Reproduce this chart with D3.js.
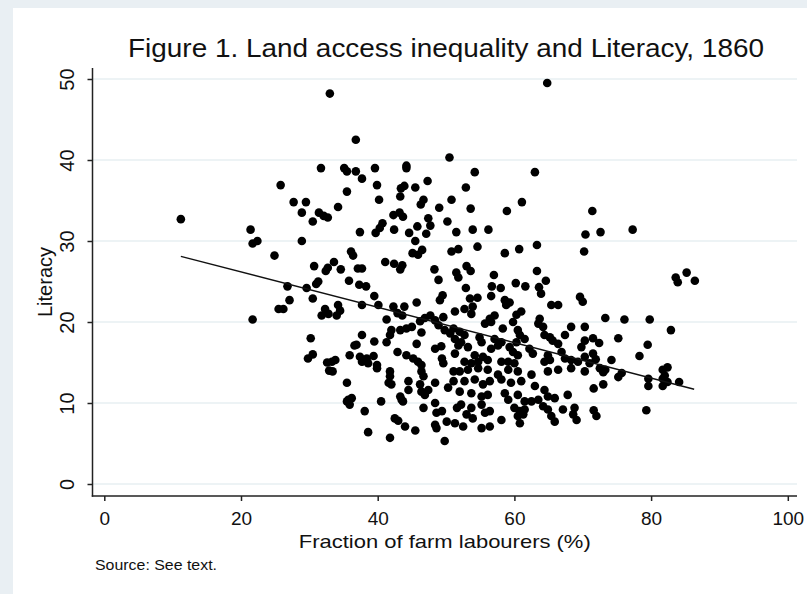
<!DOCTYPE html>
<html lang="en">
<head>
<meta charset="utf-8">
<title>Figure 1</title>
<script src="https://d3js.org/d3.v7.min.js"></script>
<style>
  html, body { margin: 0; padding: 0; background: #e9eff3; }
  svg { display: block; }
  text { font-family: "Liberation Sans", Arial, Helvetica, sans-serif; fill: #111; }
</style>
</head>
<body>
<svg id="chart" width="807" height="594"></svg>
<script>
// fraction of farm labourers (%), literacy
const upperLeft = [[33.0,48.2],[36.8,42.5],[11.2,32.7],[31.7,39.0],[35.1,39.0],[35.5,38.6],[36.8,38.6],[37.7,37.7],[39.6,39.0],[39.9,36.9],[40.2,35.1],[44.2,39.3],[44.2,39.0],[25.8,36.9],[27.7,34.8],[29.5,34.8],[28.9,33.5],[30.5,32.4],[31.4,33.5],[32.1,33.1],[32.7,32.9],[34.2,34.2],[35.5,36.1],[21.4,31.4],[21.7,29.7],[22.4,30.0],[28.9,30.0],[24.9,28.2],[37.4,31.1],[36.1,28.7],[36.4,28.2],[30.7,26.9],[32.4,26.3],[32.7,26.7],[33.6,27.4],[34.6,26.5],[31.3,25.0],[31.0,24.7],[35.8,25.1],[37.1,26.6],[37.7,26.6],[37.3,24.6],[38.3,24.4],[26.8,24.4],[29.6,24.2],[45.5,36.6],[47.3,37.4],[43.4,36.5],[43.9,36.8],[43.3,35.5],[46.7,35.1],[46.3,34.5],[49.0,34.1],[42.3,33.2],[43.2,33.5],[43.7,33.0],[47.4,32.8],[47.7,31.9],[45.8,31.8],[47.1,30.9],[44.6,31.0],[42.4,31.4],[40.7,32.2],[40.3,31.6],[39.7,31.0],[45.5,30.0],[45.1,28.5],[45.9,28.3],[46.5,28.9],[41.1,27.4],[42.4,27.2],[43.3,26.5],[43.6,27.0],[48.3,26.5],[48.9,25.2]];

const upperRight = [[64.8,49.5],[50.5,40.3],[54.2,38.5],[63.0,38.5],[52.9,36.6],[50.8,35.1],[53.6,34.0],[61.1,34.8],[58.9,33.7],[50.2,32.4],[51.5,31.1],[53.9,31.4],[56.2,31.4],[71.4,33.7],[70.4,30.8],[72.6,31.1],[77.3,31.4],[70.2,28.7],[63.3,29.5],[60.7,29.0],[58.6,28.5],[54.6,29.3],[51.8,29.0],[50.8,28.7],[51.5,26.1],[51.8,25.5],[53.0,26.9],[53.6,26.3],[57.0,25.8],[52.9,24.2],[56.7,24.4],[58.0,24.2],[60.2,24.8],[61.6,24.4],[63.3,26.3],[64.6,25.1],[63.6,24.3],[83.6,25.5],[83.9,24.9],[85.2,26.1],[86.4,25.1]];

const lowerLeft = [[30.5,22.9],[27.1,22.7],[25.5,21.6],[26.2,21.6],[32.3,21.6],[31.8,20.8],[21.7,20.3],[30.2,18.0],[30.5,16.0],[29.8,15.5],[32.6,15.0],[32.9,14.0]];

const lowerRight = [[73.3,20.5],[76.1,20.3],[79.8,20.3],[82.9,19.0],[75.2,18.0],[79.5,17.2],[78.3,15.8],[71.5,18.0],[72.4,17.4],[71.5,16.1],[71.9,15.4],[74.2,15.3],[72.5,14.3],[73.3,14.1],[73.0,13.8],[75.7,13.7],[75.2,13.2],[73.0,12.3],[71.6,11.8],[81.7,14.1],[82.4,14.4],[82.0,13.4],[81.7,13.0],[82.4,12.6],[84.1,12.6],[79.6,13.0],[79.6,12.1],[81.7,12.1],[79.3,9.1],[71.6,9.1],[72.0,8.4]];

const coreWest = [[39.5,23.2],[49.5,23.3],[49.1,22.7],[45.7,22.4],[51.3,21.3],[37.7,22.1],[40.1,22.1],[42.3,21.9],[43.9,21.9],[43.6,20.8],[42.9,21.1],[34.2,22.1],[34.5,21.4],[34.0,20.8],[32.8,21.0],[41.3,20.3],[47.7,20.8],[46.9,20.5],[46.2,20.1],[48.4,20.2],[49.6,20.6],[45.0,19.4],[44.2,19.2],[43.3,19.0],[42.0,19.0],[41.8,18.4],[41.3,17.5],[46.4,18.7],[48.9,19.6],[49.8,19.0],[50.6,18.6],[51.3,17.9],[51.1,19.2],[37.7,18.4],[39.5,17.6],[36.6,17.1],[36.9,17.2],[45.7,17.3],[48.4,16.7],[49.3,17.0],[42.9,16.3],[44.2,15.9],[45.2,15.5],[45.9,15.1],[46.4,14.7],[35.9,15.9],[37.4,15.7],[38.4,15.5],[39.4,15.8],[33.3,15.1],[33.8,15.3],[39.9,14.7],[49.4,15.5],[49.6,14.9],[51.3,16.1],[51.8,17.1],[37.7,15.1],[38.6,14.9],
  [33.4,13.9],[39.9,14.3],[41.8,13.9],[41.8,13.3],[42.0,12.3],[41.6,12.5],[35.5,12.5],[44.5,12.7],[44.5,11.6],[46.4,13.9],[46.7,13.3],[46.2,12.3],[46.4,11.4],[46.9,11.0],[47.4,11.6],[48.4,12.5],[51.1,13.9],[51.1,12.7],[50.3,11.9],[35.7,10.4],[35.9,9.8],[35.5,10.2],[36.2,10.6],[40.5,10.2],[43.3,10.8],[43.7,10.2],[43.5,10.4],[38.1,9.0],[46.7,9.4],[48.4,10.0],[48.6,8.8],[49.4,9.0],[51.6,9.4],[42.5,8.1],[43.0,7.8],[44.0,7.1],[45.5,6.6],[48.4,7.3],[48.6,6.9],[50.1,7.7],[51.3,7.5],[38.6,6.4],[41.8,5.7],[49.8,5.3]];

const coreEast = [[56.6,23.2],[53.5,22.9],[54.6,23.0],[53.9,21.9],[53.7,21.0],[52.7,21.6],[58.6,22.7],[59.3,22.4],[58.8,22.1],[63.9,23.5],[69.6,23.1],[70.0,22.5],[65.4,22.1],[66.4,22.1],[61.0,21.3],[60.3,20.9],[57.1,20.8],[56.4,20.4],[55.7,19.8],[56.6,20.0],[59.8,20.0],[63.7,20.4],[63.5,19.8],[64.2,19.4],[58.3,19.2],[60.5,19.0],[60.8,18.4],[60.3,17.5],[61.5,17.9],[68.3,19.4],[70.3,19.4],[67.4,18.4],[66.4,17.3],[64.4,18.4],[65.2,18.1],[65.6,17.7],[52.0,18.8],[52.7,18.4],[52.2,17.5],[53.2,16.9],[54.9,18.1],[55.2,17.5],[57.1,17.9],[57.6,17.1],[56.6,16.7],[58.1,17.5],[59.3,16.9],[59.8,16.3],[60.5,15.9],[62.2,16.7],[62.7,16.1],[54.2,15.9],[55.4,15.7],[54.7,15.1],[56.1,15.3],[53.7,14.9],[52.7,15.1],[58.1,15.1],[59.1,15.1],[60.0,14.9],[64.9,15.9],[65.2,15.3],[64.4,15.1],[66.9,16.3],[67.4,15.5],[68.3,15.3],[69.3,15.1],[70.3,15.7],[71.0,14.9],[69.8,16.9],[70.3,17.7],
  [52.0,13.9],[53.2,14.1],[54.7,14.3],[56.1,14.1],[57.6,13.5],[59.1,14.1],[60.5,13.9],[62.5,13.5],[64.9,13.9],[66.4,14.1],[68.3,14.3],[70.3,13.9],[52.7,12.7],[54.2,12.9],[55.4,12.3],[56.4,12.7],[58.1,12.9],[59.5,12.5],[61.0,12.7],[63.0,12.1],[64.4,11.6],[65.9,10.6],[67.8,11.0],[52.0,11.4],[53.7,11.2],[55.2,10.8],[56.1,11.0],[58.6,11.2],[59.1,10.4],[60.5,11.0],[61.5,10.2],[62.5,10.2],[63.5,10.4],[64.9,10.8],[52.2,9.8],[53.7,9.4],[55.2,9.8],[56.4,9.0],[53.0,8.6],[53.9,8.1],[52.5,7.1],[55.7,8.8],[60.0,9.4],[60.8,9.0],[61.5,9.2],[60.5,8.4],[61.3,8.6],[64.2,9.6],[64.9,9.2],[65.4,8.4],[65.9,7.7],[67.1,9.2],[68.8,9.4],[69.1,7.9],[68.6,8.6],[58.1,7.9],[60.8,7.5],[55.2,6.9],[56.4,7.1]];

// fitted line, end points as drawn
const fitX = [11.2, 86.3];
const fitY = [28.1, 11.7];

const xTicks = [0, 20, 40, 60, 80, 100];
const yTicks = [0, 10, 20, 30, 40, 50];

const points = [].concat(upperLeft, upperRight, lowerLeft, lowerRight, coreWest, coreEast);

const svg = d3.select('#chart');

// white graph region inside the light outer band
svg.append('rect')
    .attr('x', 13).attr('y', 8)
    .attr('width', 807 - 13).attr('height', 594 - 8)
    .attr('fill', '#ffffff');

const plotLeft = 92.5, plotRight = 797, plotTop = 68, plotBottom = 496;

const x = d3.scaleLinear().domain([0, 100]).range([104.3, 787.8]);
const y = d3.scaleLinear().domain([0, 50]).range([484, 79]);

// gridlines
svg.append('g')
    .selectAll('line')
    .data(yTicks)
    .join('line')
    .attr('x1', plotLeft).attr('x2', plotRight)
    .attr('y1', d => y(d)).attr('y2', d => y(d))
    .attr('stroke', '#e7eff2')
    .attr('stroke-width', 1.6);

// axes
const xAxis = svg.append('g')
    .attr('transform', `translate(0,${plotBottom})`)
    .call(d3.axisBottom(x).tickValues(xTicks).tickSize(5));
const yAxis = svg.append('g')
    .attr('transform', `translate(${plotLeft},0)`)
    .call(d3.axisLeft(y).tickValues(yTicks).tickSize(5));

[xAxis, yAxis].forEach(g => {
    g.select('.domain').remove();
    g.selectAll('.tick line').attr('stroke', '#222').attr('stroke-width', 1.5);
});

xAxis.selectAll('.tick text')
    .attr('font-size', 19)
    .attr('fill', '#111')
    .attr('dy', null)
    .attr('y', 29);

yAxis.selectAll('.tick text')
    .attr('font-size', 20)
    .attr('fill', '#111')
    .attr('text-anchor', 'middle')
    .attr('dy', null)
    .attr('x', null)
    .attr('transform', 'translate(-19,0) rotate(-90)');

// axis lines
svg.append('line')
    .attr('x1', plotLeft).attr('x2', plotLeft)
    .attr('y1', plotTop).attr('y2', plotBottom + 0.75)
    .attr('stroke', '#222').attr('stroke-width', 1.5);
svg.append('line')
    .attr('x1', plotLeft - 0.75).attr('x2', plotRight)
    .attr('y1', plotBottom).attr('y2', plotBottom)
    .attr('stroke', '#222').attr('stroke-width', 1.5);

// scatter
svg.append('g')
    .selectAll('circle')
    .data(points)
    .join('circle')
    .attr('cx', d => x(d[0]))
    .attr('cy', d => y(d[1]))
    .attr('r', 4.3)
    .attr('fill', '#000');

// fitted values
svg.append('line')
    .attr('x1', x(fitX[0])).attr('y1', y(fitY[0]))
    .attr('x2', x(fitX[1])).attr('y2', y(fitY[1]))
    .attr('stroke', '#111')
    .attr('stroke-width', 1.4);

// titles
svg.append('text')
    .attr('x', 446).attr('y', 57)
    .attr('text-anchor', 'middle')
    .attr('font-size', 26)
    .attr('textLength', 636)
    .attr('lengthAdjust', 'spacingAndGlyphs')
    .text('Figure 1. Land access inequality and Literacy, 1860');

svg.append('text')
    .attr('x', (plotLeft + plotRight) / 2).attr('y', 548)
    .attr('text-anchor', 'middle')
    .attr('font-size', 19)
    .attr('textLength', 292)
    .attr('lengthAdjust', 'spacingAndGlyphs')
    .text('Fraction of farm labourers (%)');

svg.append('text')
    .attr('transform', `translate(52,${(plotTop + plotBottom) / 2}) rotate(-90)`)
    .attr('text-anchor', 'middle')
    .attr('font-size', 20)
    .text('Literacy');

svg.append('text')
    .attr('x', 95).attr('y', 570)
    .attr('font-size', 14.5)
    .attr('textLength', 122)
    .attr('lengthAdjust', 'spacingAndGlyphs')
    .text('Source: See text.');
</script>
</body>
</html>
